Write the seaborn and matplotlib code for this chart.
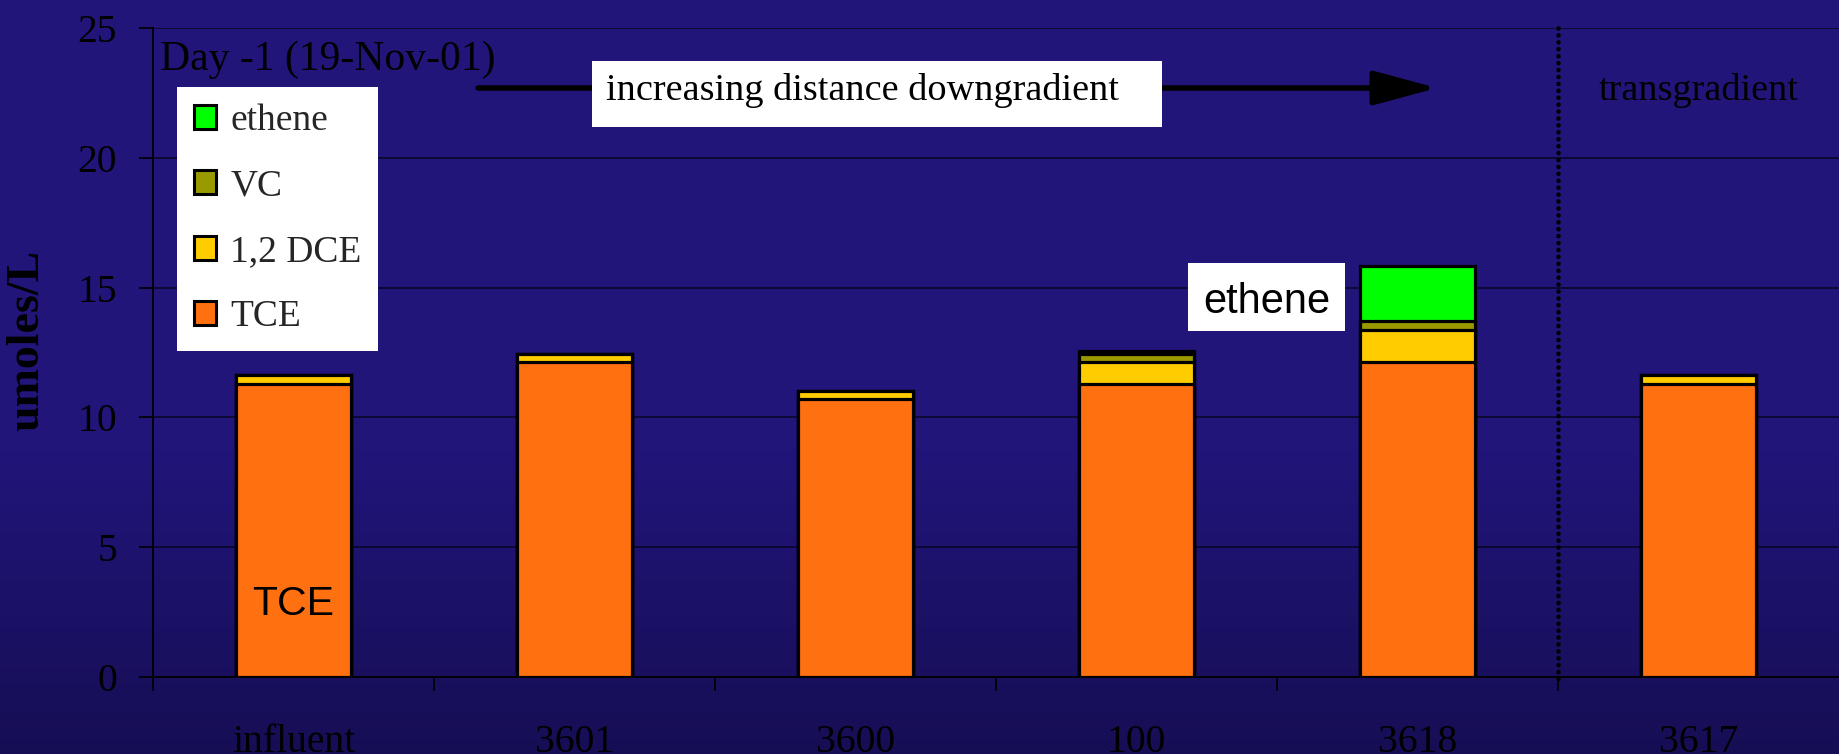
import numpy as np
import pandas as pd
import matplotlib
matplotlib.use("Agg")
import matplotlib.pyplot as plt
from matplotlib.patches import Patch, Rectangle
import seaborn as sns

# Monitoring wells, ordered by distance downgradient (3617 is transgradient)
sites = ["influent", "3601", "3600", "100", "3618", "3617"]

# Concentrations in umoles/L
tce = [11.3, 12.15, 10.7, 11.3, 12.15, 11.3]
dce = [0.35, 0.3, 0.3, 0.83, 1.2, 0.35]
vc = [0.0, 0.0, 0.0, 0.3, 0.38, 0.0]
ethene = [0.0, 0.0, 0.0, 0.12, 2.1, 0.0]

y_ticks = [0, 5, 10, 15, 20, 25]

series_names = ["ethene", "VC", "1,2 DCE", "TCE"]
series_colors = ["#00FF00", "#999900", "#FFCC00", "#FF7010"]

sns.set_style("ticks")
plt.rcParams["font.family"] = ["Liberation Serif", "DejaVu Serif"]

W, H = 1839, 754
fig = plt.figure(figsize=(W / 100, H / 100), dpi=100)

# Slide-style dark blue background, darkening toward the bottom
bg = fig.add_axes([0, 0, 1, 1], zorder=-10)
rows = np.arange(H)
t = np.clip((rows - 450) / (H - 450), 0, 1)
top = np.array([33, 21, 122]) / 255
bot = np.array([22, 14, 84]) / 255
grad = top[None, :] * (1 - t[:, None]) + bot[None, :] * t[:, None]
bg.imshow(grad[:, None, :], aspect="auto", extent=[0, 1, 0, 1])
bg.set_axis_off()

# Plot area
px0, py0, py25 = 153, 677, 28
ax = fig.add_axes([px0 / W, (H - py0) / H, (W - px0) / W, (py0 - py25) / H])
ax.set_facecolor("none")

df = pd.DataFrame({"site": sites, "TCE": tce, "1,2 DCE": dce, "VC": vc, "ethene": ethene})
cum_tce = df["TCE"]
cum_dce = cum_tce + df["1,2 DCE"]
cum_vc = cum_dce + df["VC"]
cum_eth = cum_vc + df["ethene"]

# Stacked bars: draw cumulative totals from the top layer down
for heights, color in zip([cum_eth, cum_vc, cum_dce, cum_tce], series_colors):
    sns.barplot(x=df["site"], y=heights, color=color, saturation=1, width=0.41,
                edgecolor="black", linewidth=2.3, ax=ax, order=sites, zorder=3)

ax.set_xlim(-0.5, 5.5)
ax.set_ylim(0, 25)
ax.set_xlabel("")
ax.set_ylabel("umoles/L", fontsize=33, fontweight="bold", color="black")
ax.yaxis.set_label_coords(-0.062, 0.519)

ax.set_yticks(y_ticks)
ax.yaxis.grid(True, color="#0b0830", linewidth=1.3)
ax.xaxis.grid(False)
ax.set_axisbelow(True)
ax.tick_params(axis="y", length=10, width=1.2, color="black", pad=16,
               labelsize=28.5, labelcolor="black")
ax.set_xticks(range(len(sites)))
ax.set_xticklabels(sites)
ax.tick_params(axis="x", which="major", length=0, pad=34, labelsize=28.5, labelcolor="black")
ax.set_xticks(np.arange(-0.5, 5.5, 1.0), minor=True)
ax.tick_params(axis="x", which="minor", length=10, width=1.2, color="black")

for side in ["top", "right"]:
    ax.spines[side].set_visible(False)
for side in ["left", "bottom"]:
    ax.spines[side].set_color("black")
    ax.spines[side].set_linewidth(1.3)

# Dotted separator between downgradient and transgradient wells
ax.plot([4.5, 4.5], [25, -0.25], color="black", lw=3.3, linestyle=(0, (0.01, 1.5)),
        dash_capstyle="round", clip_on=False, zorder=4)

# Direction arrow with label box
arrow_y = (py0 - 88) / (py0 - py25)
ax.annotate("", xy=(4.07, arrow_y), xytext=(0.657, arrow_y),
            xycoords=("data", "axes fraction"), textcoords=("data", "axes fraction"),
            arrowprops=dict(arrowstyle="-|>,head_length=1.3,head_width=0.35",
                            lw=4, color="black", shrinkA=0, shrinkB=0,
                            mutation_scale=30, capstyle="round"),
            zorder=5)
ax.add_patch(Rectangle((0.2604, 0.8475), 0.3381, 0.1017, transform=ax.transAxes,
                       facecolor="white", edgecolor="none", zorder=6, clip_on=False))
ax.text(0.2687, 0.889, "increasing distance downgradient", transform=ax.transAxes,
        fontsize=27.5, color="black", ha="left", va="baseline", zorder=7)

ax.text(0.0042, 0.935, "Day -1 (19-Nov-01)", transform=ax.transAxes,
        fontsize=30, color="black", ha="left", va="baseline", zorder=7)

ax.text(5.0, (py0 - 100) / (py0 - py25), "transgradient",
        transform=ax.get_xaxis_transform(), fontsize=27.5, color="black",
        ha="center", va="baseline", zorder=7)

# Label boxes for the bars
ax.add_patch(Rectangle((0.6139, 0.5331), 0.0931, 0.1048, transform=ax.transAxes,
                       facecolor="white", edgecolor="none", zorder=6))
ax.text(0.6605, 0.5609, "ethene", transform=ax.transAxes, fontsize=30,
        family=["Liberation Sans", "DejaVu Sans"], color="black",
        ha="center", va="baseline", zorder=7)
ax.text(0, (py0 - 615) / (py0 - py25) * 25, "TCE", fontsize=29.5,
        family=["Liberation Sans", "DejaVu Sans"], color="black",
        ha="center", va="baseline", zorder=7)

handles = [Patch(facecolor=c, edgecolor="black", linewidth=2.2, label=n)
           for n, c in zip(series_names, series_colors)]
leg = ax.legend(handles=handles, loc="upper left", bbox_to_anchor=(0.01423, 0.9091),
                borderaxespad=0, fontsize=27, frameon=True, fancybox=False,
                facecolor="white", edgecolor="none", framealpha=1,
                handlelength=0.6, handleheight=0.6, handletextpad=0.37,
                labelspacing=0.82, borderpad=0.45)
leg.set_zorder(8)

fig.savefig("out.png", dpi=100)
